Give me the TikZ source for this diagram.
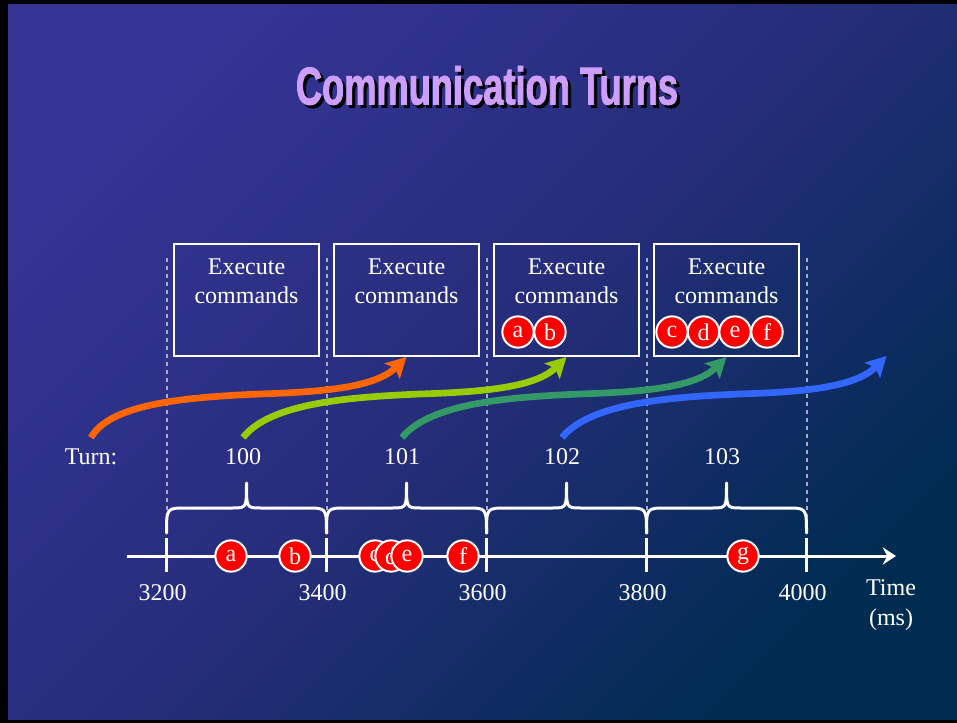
\documentclass[tikz,border=0pt]{standalone}
\usepackage{fontspec}
\setmainfont{Liberation Serif}
\newfontfamily\titlefont{Liberation Sans}[FakeStretch=0.68,FakeBold=1.5]
\usetikzlibrary{arrows.meta}
\definecolor{bgA}{RGB}{52,52,148}
\definecolor{bgM}{RGB}{38,45,122}
\definecolor{bgB}{RGB}{0,44,82}
\definecolor{titleC}{RGB}{206,158,252}
\definecolor{dashC}{RGB}{165,172,205}
\definecolor{tokred}{RGB}{255,0,0}
\definecolor{arrOrange}{RGB}{255,102,0}
\definecolor{arrLime}{RGB}{153,204,0}
\definecolor{arrTeal}{RGB}{51,153,102}
\definecolor{arrBlue}{RGB}{51,102,255}
\tikzset{
  boxc/.style={draw=white, line width=1.5pt, minimum width=108.75pt, minimum height=84pt, inner sep=0pt},
  body/.style={text=white, font=\fontsize{18pt}{21.75pt}\selectfont, align=center},
  tokenc/.style={circle, fill=tokred, draw=white, line width=1.5pt, minimum size=23.5pt, inner sep=0pt, text=white, font=\fontsize{18pt}{18pt}\selectfont},
  dashline/.style={draw=dashC, line width=1.5pt, dash pattern=on 3pt off 3pt},
  axisline/.style={draw=white, line width=2.25pt},
  tickmark/.style={draw=white, line width=2.25pt},
  bracec/.style={draw=white, line width=2.25pt, line cap=round, line join=round},
  turnarrow/.style={line width=5pt, -{Stealth[length=15pt,width=16pt,inset=3pt]}},
  titletext/.style={font=\titlefont\bfseries\fontsize{40pt}{48pt}\selectfont}
}
\begin{document}
\begin{tikzpicture}[x=0.75pt,y=-0.75pt]
\useasboundingbox (0,0) rectangle (957,723);
\fill[black] (0,0) rectangle (957,723);
\shade[top color=bgA, bottom color=bgB, middle color=bgM, shading angle=45] (8,5) rectangle (957,719);

% title (with drop shadow in the same node)
\node[titletext, text=titleC] (title) at (487,87)
  {\rlap{\hspace{2.25pt}\raisebox{-2.25pt}{\color{black}Communication Turns}}Communication Turns};

% dashed separators
\foreach \k in {0,...,4}{
  \draw[dashline] (166.5+160*\k,258) -- (166.5+160*\k,532);
}

% boxes
\foreach \k in {0,...,3}{
  \node[boxc] (box\k) at (246.5+160*\k,300) {};
  \node[body] (ex\k) at (246.5+160*\k,281) {Execute\\commands};
}

% tokens in boxes
\node[tokenc] (ka) at (518,332) {a};
\node[tokenc] (kb) at (550,332) {b};
\node[tokenc] (kc) at (672,332) {c};
\node[tokenc] (kd) at (703.5,332) {d};
\node[tokenc] (ke) at (735,332) {e};
\node[tokenc] (kf) at (767,332) {f};

% turn labels
\node[body] (lblturn) at (91,457) {Turn:};
\node[body] (lbl100) at (243,457) {100};
\node[body] (lbl101) at (402,457) {101};
\node[body] (lbl102) at (562,457) {102};
\node[body] (lbl103) at (722,457) {103};

% arrows
\coordinate (s0) at ([yshift=5pt]lblturn.north);
\coordinate (s1) at ([yshift=5pt]lbl100.north);
\coordinate (s2) at ([yshift=5pt]lbl101.north);
\coordinate (s3) at ([yshift=5pt]lbl102.north);
\coordinate (e0) at (box1.south);
\coordinate (e1) at (box2.south);
\coordinate (e2) at (box3.south);
\coordinate (e3) at (886.5,356);
\foreach \k/\c in {0/arrOrange,1/arrLime,2/arrTeal,3/arrBlue}{
  \begin{scope}[xshift=\k*120pt]
    \draw[turnarrow, color=\c] (s\k) .. controls (110,403) and (190,397) .. (260,394)
      .. controls (320,392) and (375,388) .. (e\k);
  \end{scope}
}

% braces
\foreach \k in {0,...,3}{
  \pgfmathsetmacro{\xa}{166.5+160*\k}
  \pgfmathsetmacro{\xm}{\xa+80}
  \pgfmathsetmacro{\xb}{\xa+160}
  \draw[bracec] (\xa,533) .. controls (\xa,508) .. (\xa+20,508) -- (\xm-14,508)
    .. controls (\xm,508) .. (\xm,483) .. controls (\xm,508) .. (\xm+14,508)
    -- (\xb-20,508) .. controls (\xb,508) .. (\xb,533);
}

% time axis
\coordinate (axstart) at (127,556);
\coordinate (axend) at (896,556);
\draw[axisline, -{Stealth[length=10pt,width=13pt,inset=3.5pt]}] (axstart) -- (axend);
\foreach \k/\t in {0/3200,1/3400,2/3600,3/3800,4/4000}{
  \draw[tickmark] (166.5+160*\k,538) -- (166.5+160*\k,572);
  \node[body] (tl\k) at (162.5+160*\k,593) {\t};
}
\node[body, font=\fontsize{18pt}{22.5pt}\selectfont] (timelbl) at (891,605) {Time\\(ms)};

% tokens on axis
\node[tokenc] (ta) at (231,556) {a};
\node[tokenc] (tb) at (295,556) {b};
\node[tokenc] (tc) at (375,556) {c};
\node[tokenc] (td) at (391,556) {d};
\node[tokenc] (te) at (407,556) {e};
\node[tokenc] (tf) at (463,556) {f};
\node[tokenc] (tg) at (743,556) {g};
\end{tikzpicture}
\end{document}
